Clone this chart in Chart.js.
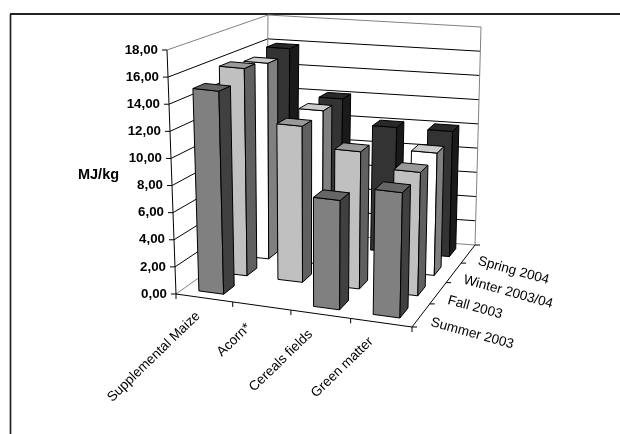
<!DOCTYPE html>
<html>
<head>
<meta charset="utf-8">
<script src="https://cdn.jsdelivr.net/npm/chart.js@4/dist/chart.umd.min.js"></script>
<style>html,body{margin:0;padding:0;background:#fff}canvas{display:block}</style>
</head>
<body>
<canvas id="c" width="620" height="434"></canvas>
<script>
const categories = ['Supplemental Maize', 'Acorn*', 'Cereals fields', 'Green matter'];
const seasons = ['Summer 2003', 'Fall 2003', 'Winter 2003/04', 'Spring 2004'];
const summer2003 = [15.05, null, 8.0, 9.1];
const fall2003 = [15.9, 11.9, 10.4, 9.3];
const winter2003 = [15.5, 12.1, null, 9.55];
const spring2004 = [15.9, 12.1, 10.1, 10.1];
const seriesValues = [summer2003, fall2003, winter2003, spring2004];
const yMax = 18, yStep = 2;
const axisTitle = 'MJ/kg';

// style per series: front, top, side
const shades = [
  ['#808080', '#666666', '#404040'],
  ['#c0c0c0', '#999999', '#606060'],
  ['#ffffff', '#cccccc', '#808080'],
  ['#333333', '#292929', '#1a1a1a']
];
// projection of the plot box: front-left, front-right, back-right, back-left
const floorQuad = [[176,294],[412,327],[475,245],[266,230]];
const topQuad   = [[167,50],[418,76],[481,27],[268,15]];
const barHalf = 0.055;
const warpU = 1.054, warpV = 0.85;
const labelNudge = [[1,2],[-6,6],[-3,4],[-3,3]];

const warp = (t,k)=>t/(t+(1-t)*k);
function bilinear(q,u,v){
  const a=warp(u,warpU), b=warp(v,warpV);
  return [0,1].map(c=>(1-b)*((1-a)*q[0][c]+a*q[1][c])+b*((1-a)*q[3][c]+a*q[2][c]));
}
function project(u,v,w){
  const a=bilinear(floorQuad,u,v), b=bilinear(topQuad,u,v);
  return [a[0]+(b[0]-a[0])*w, a[1]+(b[1]-a[1])*w];
}
function poly(ctx,pts,fill,stroke){
  ctx.beginPath();
  pts.forEach((p,i)=>i?ctx.lineTo(p[0],p[1]):ctx.moveTo(p[0],p[1]));
  ctx.closePath();
  if(fill){ctx.fillStyle=fill;ctx.fill();}
  if(stroke){ctx.strokeStyle=stroke;ctx.stroke();}
}
function seg(ctx,a,b,color,lw){
  ctx.beginPath();ctx.moveTo(a[0],a[1]);ctx.lineTo(b[0],b[1]);
  ctx.strokeStyle=color;ctx.lineWidth=lw||1;ctx.stroke();
}

const plot3d = {
  id:'plot3d',
  beforeDatasetsDraw(chart){
    const ctx=chart.ctx, xs=chart.scales.x, ys=chart.scales.y, zs=chart.scales.z;
    const U=i=>(xs.getPixelForValue(i)-xs.left)/(xs.right-xs.left);
    const V=j=>(zs.getPixelForValue(j)-zs.left)/(zs.right-zs.left);
    const W=val=>(ys.bottom-ys.getPixelForValue(val))/(ys.bottom-ys.top);
    ctx.save();
    // outer frame
    seg(ctx,[10.5,14],[10.5,434],'#222',1.7);
    seg(ctx,[10,14],[620,14],'#222',1.9);
    // walls and gridlines
    ys.ticks.forEach(t=>{
      const w=W(t.value), edge=(w===0||w===1);
      const c=edge?'#808080':'#000';
      seg(ctx,project(0,0,w),project(0,1,w),c,1);
      seg(ctx,project(0,1,w),project(1,1,w),c,1);
    });
    seg(ctx,project(0,1,0),project(0,1,1),'#808080',1);
    seg(ctx,project(1,1,0),project(1,1,1),'#808080',1);
    // axes lines
    seg(ctx,project(0,0,0),project(0,0,1),'#000',1);
    seg(ctx,project(0,0,0),project(1,0,0),'#000',1);
    seg(ctx,project(1,0,0),project(1,1,0),'#000',1);
    // value ticks + labels
    ctx.fillStyle='#000';
    ctx.font='bold 13.3px "Liberation Sans", Arial, sans-serif';
    ctx.textAlign='right';ctx.textBaseline='middle';
    ys.ticks.forEach(t=>{
      const p=project(0,0,W(t.value));
      seg(ctx,[p[0]-5,p[1]],p,'#000',1);
      ctx.fillStyle='#000';
      ctx.fillText(t.value.toFixed(2).replace('.',','),p[0]-9,p[1]);
    });
    // axis title
    ctx.font='bold 14.5px "Liberation Sans", Arial, sans-serif';
    ctx.textAlign='center';
    ctx.fillText(axisTitle,98.5,175);
    // category ticks + labels
    ctx.font='13.6px "Liberation Sans", Arial, sans-serif';
    for(let k=0;k<=categories.length;k++){
      const p=project(k/categories.length,0,0);
      seg(ctx,p,[p[0],p[1]+5],'#000',1);
    }
    categories.forEach((c,i)=>{
      const p=project(U(i),0,0);
      ctx.save();
      ctx.translate(p[0]-7+labelNudge[i][0],p[1]+14+labelNudge[i][1]);
      ctx.rotate(-44*Math.PI/180);
      ctx.textAlign='right';ctx.textBaseline='middle';ctx.fillStyle='#000';
      ctx.fillText(c,0,0);
      ctx.restore();
    });
    // depth ticks + labels
    for(let k=0;k<=seasons.length;k++){
      const p=project(1,k/seasons.length,0);
      seg(ctx,p,[p[0]+5,p[1]],'#000',1);
    }
    seasons.forEach((s,j)=>{
      const p=project(1,V(j),0);
      ctx.save();
      ctx.translate(p[0]+10,p[1]+7);
      ctx.rotate(15.5*Math.PI/180);
      ctx.textAlign='left';ctx.textBaseline='middle';ctx.fillStyle='#000';
      ctx.fillText(s,0,0);
      ctx.restore();
    });
    // bars, back row first
    ctx.lineWidth=1;ctx.lineJoin='round';
    for(let j=seriesValues.length-1;j>=0;j--){
      seriesValues[j].forEach((val,i)=>{
        if(val===null) return;
        const u0=U(i)-barHalf,u1=U(i)+barHalf,v0=V(j)-barHalf,v1=V(j)+barHalf,w=W(val);
        const [fr,tp,sd]=shades[j];
        poly(ctx,[project(u0,v0,0),project(u1,v0,0),project(u1,v0,w),project(u0,v0,w)],fr,'#000');
        poly(ctx,[project(u1,v0,0),project(u1,v1,0),project(u1,v1,w),project(u1,v0,w)],sd,'#000');
        poly(ctx,[project(u0,v0,w),project(u1,v0,w),project(u1,v1,w),project(u0,v1,w)],tp,'#000');
      });
    }
    ctx.restore();
    return false;
  }
};

new Chart(document.getElementById('c'),{
  type:'bar',
  data:{
    labels:categories,
    datasets:seasons.map((s,j)=>({label:s,data:seriesValues[j],backgroundColor:shades[j][0],borderColor:'#000',borderWidth:1}))
  },
  options:{
    responsive:false,animation:false,devicePixelRatio:1,
    events:[],
    plugins:{legend:{display:false},tooltip:{enabled:false}},
    scales:{
      x:{type:'category',display:false,offset:true},
      z:{type:'category',axis:'x',labels:seasons,display:false,offset:true},
      y:{type:'linear',display:false,min:0,max:yMax,ticks:{stepSize:yStep}}
    }
  },
  plugins:[plot3d]
});
</script>
</body>
</html>
